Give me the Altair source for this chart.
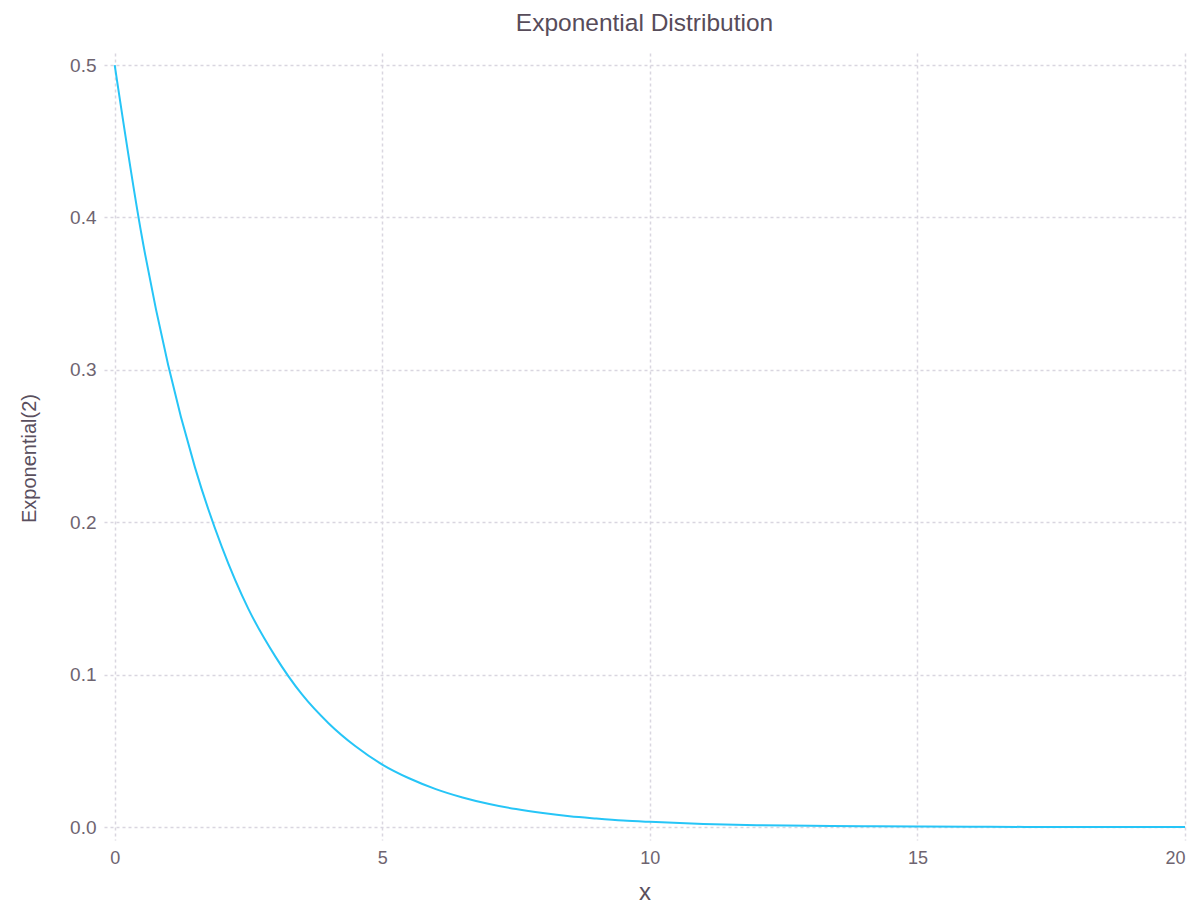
import altair as alt
import pandas as pd

x_vals = [0, 0.5, 1, 1.5, 2, 2.5, 3, 3.5, 4, 4.5, 5, 5.5, 6, 6.5, 7, 7.5, 8, 8.5, 9, 9.5,
          10, 11, 12, 13, 14, 15, 16, 17, 18, 19, 20]
y_vals = [0.5, 0.389, 0.303, 0.236, 0.184, 0.143, 0.112, 0.087, 0.068, 0.053, 0.041, 0.032,
          0.0249, 0.0194, 0.0151, 0.0118, 0.0092, 0.0071, 0.0056, 0.0043, 0.0034, 0.002, 0.0012,
          0.0008, 0.0005, 0.0003, 0.0002, 0.0001, 0.00006, 0.00004, 0.00002]
x_ticks = [0, 5, 10, 15, 20]
y_ticks = [0.0, 0.1, 0.2, 0.3, 0.4, 0.5]

df = pd.DataFrame({"x": x_vals, "y": y_vals})

font = "Liberation Sans"
text_col = "#6e6470"

chart = alt.Chart(df).mark_line(
    color="#26c5f7", strokeWidth=2, interpolate="monotone", clip=True
).encode(
    x=alt.X("x:Q", title="x",
            scale=alt.Scale(domain=[-0.2, 20.0], nice=False, zero=False),
            axis=alt.Axis(values=x_ticks, format="d", labelPadding=9, titlePadding=13,
                          labelFontSize=18,
                          titleFontSize=24, titleFontWeight="normal")),
    y=alt.Y("y:Q", title="Exponential(2)",
            scale=alt.Scale(domain=[-0.0085, 0.5079], nice=False, zero=False),
            axis=alt.Axis(values=y_ticks, format=".1f", labelPadding=8, titlePadding=30,
                          labelFontSize=19,
                          titleFontSize=20, titleFontWeight="normal", titleY=405)),
).properties(
    width=1081, height=787,
    title=alt.TitleParams("Exponential Distribution", fontSize=24.5, fontWeight="normal",
                          color="#574c5a", font=font, offset=17),
    autosize="none",
    padding={"left": 96, "top": 45, "right": 11, "bottom": 63},
).configure_view(
    stroke=None
).configure_axis(
    domain=False, ticks=False, tickSize=0,
    grid=True, gridColor="#d9d6e0", gridDash=[3, 3], gridWidth=1.5,
    labelFont=font, labelColor=text_col,
    titleFont=font, titleColor="#5a4f5e",
)

chart.save("out.html", embed_options={"renderer": "svg", "actions": False})
